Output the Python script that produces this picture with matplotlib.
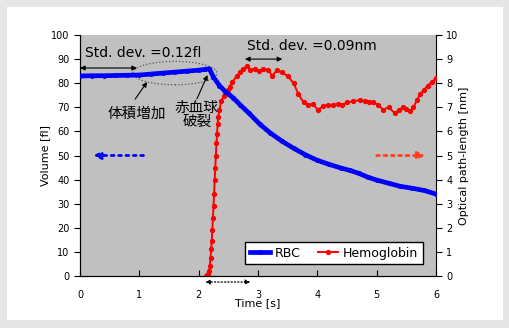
import matplotlib.pyplot as plt
import matplotlib.patches as mpatches
from matplotlib.patches import Ellipse

plt.rcParams['font.family'] = ['DejaVu Sans', 'Noto Sans CJK JP']

# RBC volume [fl]
t_rbc = [0.0, 0.2, 0.4, 0.6, 0.8, 1.0, 1.2, 1.4, 1.6, 1.8, 2.0, 2.1, 2.18,
         2.25, 2.35, 2.45, 2.58, 2.7, 2.85, 3.03, 3.2, 3.4, 3.6, 3.8, 4.0,
         4.2, 4.4, 4.55, 4.7, 4.85, 5.0, 5.2, 5.4, 5.6, 5.8, 6.0]
vol_rbc = [83.0, 83.1, 83.1, 83.2, 83.3, 83.4, 83.8, 84.2, 84.6, 85.0, 85.4,
           85.7, 86.0, 82.5, 79.0, 76.5, 74.0, 71.0, 67.5, 63.0, 59.5, 56.0,
           53.0, 50.3, 48.0, 46.3, 44.8, 43.8, 42.6, 41.0, 39.8, 38.5, 37.2,
           36.4, 35.5, 34.0]

# Hemoglobin optical path-length [nm]
t_hb = [2.12, 2.14, 2.16, 2.18, 2.19, 2.2, 2.21, 2.22, 2.23, 2.24, 2.25,
        2.26, 2.27, 2.28, 2.29, 2.3, 2.31, 2.32, 2.33, 2.35, 2.38, 2.42,
        2.46, 2.5, 2.52, 2.57, 2.64, 2.7, 2.75, 2.81, 2.87, 2.95, 3.02, 3.09,
        3.17, 3.24, 3.32, 3.4, 3.5, 3.6, 3.68, 3.77, 3.85, 3.92, 4.01, 4.1,
        4.18, 4.27, 4.35, 4.42, 4.5, 4.6, 4.72, 4.8, 4.87, 4.94, 5.02, 5.11,
        5.2, 5.31, 5.38, 5.45, 5.5, 5.56, 5.62, 5.68, 5.73, 5.79, 5.86, 5.93,
        6.0]
opl_hb = [0.0, 0.05, 0.1, 0.2, 0.4, 0.75, 1.1, 1.45, 1.9, 2.4, 2.9, 3.4,
          4.0, 4.5, 5.0, 5.5, 5.9, 6.3, 6.6, 6.9, 7.25, 7.45, 7.55, 7.7,
          7.85, 8.05, 8.3, 8.45, 8.6, 8.7, 8.55, 8.6, 8.5, 8.6, 8.55, 8.3,
          8.55, 8.45, 8.3, 8.0, 7.55, 7.2, 7.1, 7.15, 6.9, 7.05, 7.1, 7.1,
          7.15, 7.1, 7.2, 7.25, 7.3, 7.25, 7.2, 7.2, 7.1, 6.9, 7.0, 6.75,
          6.9, 7.0, 6.95, 6.85, 7.0, 7.3, 7.55, 7.7, 7.9, 8.05, 8.2]

fig = plt.figure(figsize=(5.1, 3.28), dpi=100)
fig.patch.set_facecolor('#e6e6e6')
fig.patches.append(mpatches.Rectangle((7 / 510, 8 / 328), 496 / 510, 313 / 328,
                                      transform=fig.transFigure,
                                      facecolor='white', edgecolor='none',
                                      zorder=-1))

ax = fig.add_axes([80 / 510, 52 / 328, 356 / 510, 241 / 328])
ax2 = ax.twinx()

l1, = ax.plot(t_rbc, vol_rbc, color='#0000ff', lw=3.4, marker='o', ms=2.5,
              label='RBC', zorder=3)
l2, = ax2.plot(t_hb, opl_hb, color='#ff0000', lw=1.4, marker='o', ms=2.8,
               label='Hemoglobin', zorder=3)

ax.set_xlim(0, 6)
ax.set_ylim(0, 100)
ax2.set_ylim(0, 10)
ax.set_xticks(range(7))
ax.set_yticks(range(0, 101, 10))
ax2.set_yticks(range(11))
ax.tick_params(axis='x', direction='in', labelsize=7, pad=10, length=4)
ax.tick_params(axis='y', direction='out', labelsize=7, length=4)
ax2.tick_params(axis='y', direction='out', labelsize=7, length=4)
ax.spines['top'].set_visible(False)
ax2.spines['top'].set_visible(False)
ax.spines['right'].set_visible(False)

ax.set_xlabel('Time [s]', fontsize=8, labelpad=-1)
ax.set_ylabel('Volume [fl]', fontsize=8, labelpad=1)
ax2.set_ylabel('Optical path-length [nm]', fontsize=8, labelpad=0)

leg = ax.legend([l1, l2], ['RBC', 'Hemoglobin'], loc='lower right', ncol=2,
                fontsize=9, fancybox=False, edgecolor='black', framealpha=1,
                borderaxespad=0, handlelength=1.6, columnspacing=1.4,
                handletextpad=0.4, borderpad=0.35,
                bbox_to_anchor=(0.963, 0.05))
leg.get_frame().set_linewidth(1)
ax.set_zorder(ax2.get_zorder() + 1)
ax.patch.set_visible(False)
ax2.patch.set_visible(True)
ax2.patch.set_facecolor('#c0c0c0')

arr = dict(arrowstyle='<|-|>', color='black', lw=0.8, mutation_scale=7,
           shrinkA=0, shrinkB=0)
ax.annotate('', xy=(0, 86.3), xytext=(0.96, 86.3), arrowprops=arr)
ax.text(0.08, 92.5, 'Std. dev. =0.12fl', fontsize=10, va='center')
ax.annotate('', xy=(2.78, 90), xytext=(3.41, 90), arrowprops=arr)
ax.text(2.82, 95.5, 'Std. dev. =0.09nm', fontsize=10, va='center')

ax.add_patch(Ellipse((1.6, 84.2), 1.42, 9.7, fill=False, ls=':', lw=0.9,
                     edgecolor='#555555', zorder=2))

ax.annotate('', xy=(1.13, 80.5), xytext=(0.93, 73.4),
            arrowprops=dict(arrowstyle='-|>', color='black', lw=0.8,
                            mutation_scale=7, shrinkA=0, shrinkB=0))
ax.text(0.96, 67.5, '体積増加', fontsize=10.5, ha='center', va='center',
        family=['Noto Sans CJK JP', 'DejaVu Sans'])
ax.annotate('', xy=(2.15, 83.4), xytext=(1.97, 73.5),
            arrowprops=dict(arrowstyle='-|>', color='black', lw=0.8,
                            mutation_scale=7, shrinkA=0, shrinkB=0))
ax.text(1.97, 67.0, '赤血球\n破裂', fontsize=10.5, ha='center', va='center',
        linespacing=1.0, family=['Noto Sans CJK JP', 'DejaVu Sans'])

ax.annotate('', xy=(0.22, 50), xytext=(1.07, 50),
            arrowprops=dict(arrowstyle='-|>', color='#0000ff', lw=2.0, ls=':',
                            mutation_scale=11, shrinkA=0, shrinkB=0))
ax.annotate('', xy=(5.82, 50), xytext=(5.0, 50),
            arrowprops=dict(arrowstyle='-|>', color='#ff4020', lw=2.0, ls=':',
                            mutation_scale=11, shrinkA=0, shrinkB=0))

ax.annotate('', xy=(2.11, -2.5), xytext=(2.87, -2.5), annotation_clip=False,
            arrowprops=dict(arrowstyle='<|-|>', color='black', lw=0.9, ls=':',
                            mutation_scale=7, shrinkA=0, shrinkB=0))

fig.savefig('out.png', dpi=100)
